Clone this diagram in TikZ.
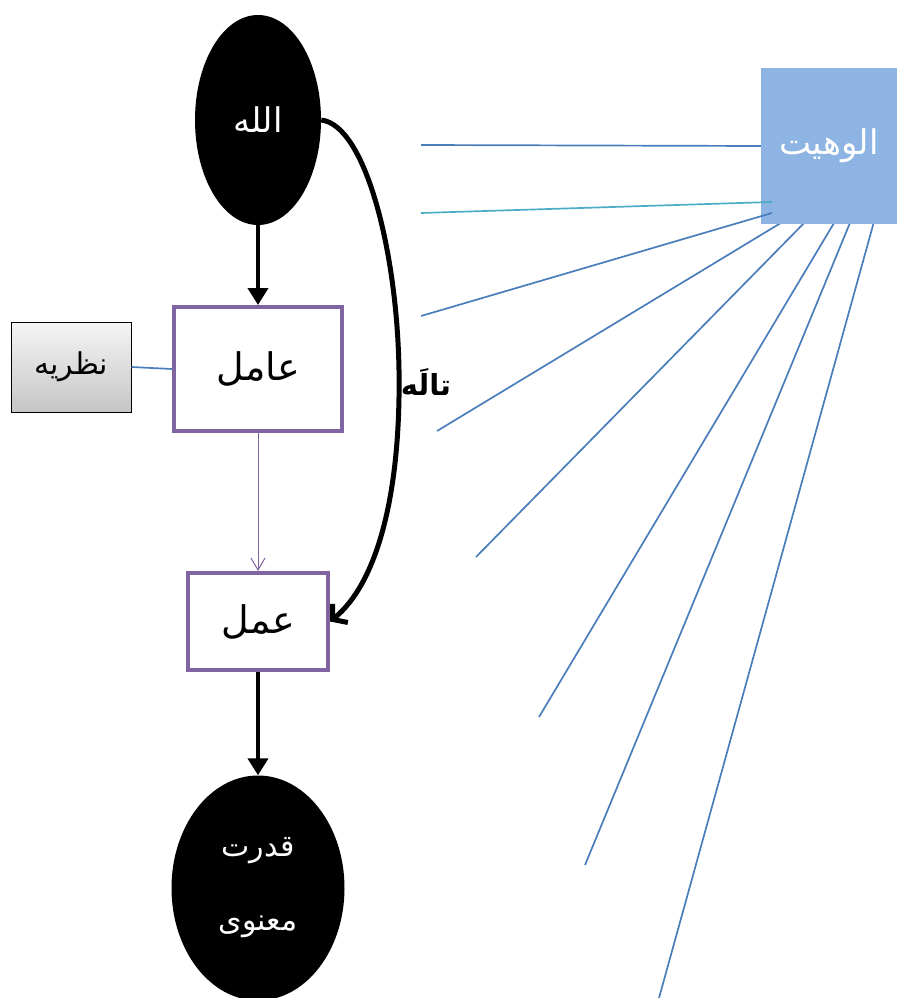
\documentclass[tikz,border=0pt]{standalone}
\usepackage{fontspec}
\usetikzlibrary{arrows.meta,shapes.geometric}
\TeXXeTstate=1
\newfontfamily\arabicfont[Script=Arabic]{DejaVu Sans}
\definecolor{boxpurple}{HTML}{8064A2}
\definecolor{skyfill}{HTML}{8EB4E3}
\definecolor{raycol}{HTML}{4A7EBB}
\definecolor{tealcol}{HTML}{4BACC6}
\tikzset{
  blackoval/.style={ellipse, fill=black, draw=none, inner sep=0pt, text=white},
  purplebox/.style={rectangle, draw=boxpurple, line width=4pt, fill=white, inner sep=0pt},
  greybox/.style={rectangle, draw=black, line width=1pt, top color=gray!8, bottom color=gray!45, inner sep=0pt},
  skybox/.style={rectangle, fill=skyfill, draw=none, inner sep=0pt, text=white},
  heavyarrow/.style={line width=4pt, -{Triangle[length=17pt,width=20pt]}},
  thinarrow/.style={boxpurple, line width=1pt, -{Straight Barb[length=12pt,width=14pt]}},
  ray/.style={raycol, line width=1.7pt},
}
\begin{document}
\begin{tikzpicture}[x=1pt,y=-1pt]
\useasboundingbox (0,0) rectangle (897,998);

% main column
\node[blackoval, minimum width=126pt, minimum height=210pt,
  font=\arabicfont\fontsize{34}{40}\selectfont] (allah) at (258,120)
  {\beginR الله\endR};
\node[purplebox, minimum width=168pt, minimum height=124pt,
  font=\arabicfont\fontsize{38}{44}\selectfont] (amel) at (258,369)
  {\beginR عامل\endR};
\node[purplebox, minimum width=140pt, minimum height=97pt,
  font=\arabicfont\fontsize{38}{44}\selectfont] (amal) at (258,621.5)
  {\beginR عمل\endR};
\node[blackoval, minimum width=173pt, minimum height=225pt, align=center,
  font=\arabicfont\fontsize{30}{36}\selectfont] (qodrat) at (258,888)
  {\beginR قدرت\endR\\[38pt]\beginR معنوی\endR};
\node[greybox, minimum width=120pt, minimum height=90pt,
  font=\arabicfont\fontsize{30}{36}\selectfont] (nazar) at (71,367)
  {\beginR نظریه\endR};

\draw[heavyarrow] (allah.south) -- (amel.north);
\draw[thinarrow] (amel.south) -- (amal.north);
\draw[heavyarrow] (amal.south) -- (qodrat.north);
\draw[ray] (nazar.east) -- (amel.west);

% curved arrow on the right
\coordinate (bend) at (399,370);
\draw[line width=5pt, -{Straight Barb[length=10pt,width=24pt]}]
  (allah.east) .. controls (365,125) and (397,250) .. (bend)
  .. controls (401,500) and (375,585) .. (amal.east);
\node[font=\arabicfont\bfseries\fontsize{29}{34}\selectfont] (taalloh) at (426,382) {\beginR تالَه\endR};

% rays under the box
\coordinate (r4a) at (437,431);  \coordinate (r4b) at (789,218);
\coordinate (r5a) at (476,557);  \coordinate (r5b) at (809,218);
\coordinate (r6a) at (539,717);  \coordinate (r6b) at (837,218);
\coordinate (r7a) at (585,865);  \coordinate (r7b) at (852,218);
\coordinate (r8a) at (659,998);  \coordinate (r8b) at (875,218);
\draw[ray] (r4a) -- (r4b);
\draw[ray] (r5a) -- (r5b);
\draw[ray] (r6a) -- (r6b);
\draw[ray] (r7a) -- (r7b);
\draw[ray] (r8a) -- (r8b);

\node[skybox, minimum width=136pt, minimum height=156pt,
  font=\arabicfont\fontsize{34}{40}\selectfont] (oluh) at (829,146)
  {\beginR الوهیت\endR};

% rays over the box
\coordinate (r1a) at (421,145);
\coordinate (r2a) at (421,213);  \coordinate (r2b) at (772,202);
\coordinate (r3a) at (421,316);  \coordinate (r3b) at (772,213);
\draw[ray] (r1a) -- (oluh.west);
\draw[tealcol, line width=1.7pt] (r2a) -- (r2b);
\draw[ray] (r3a) -- (r3b);
\end{tikzpicture}
\end{document}
